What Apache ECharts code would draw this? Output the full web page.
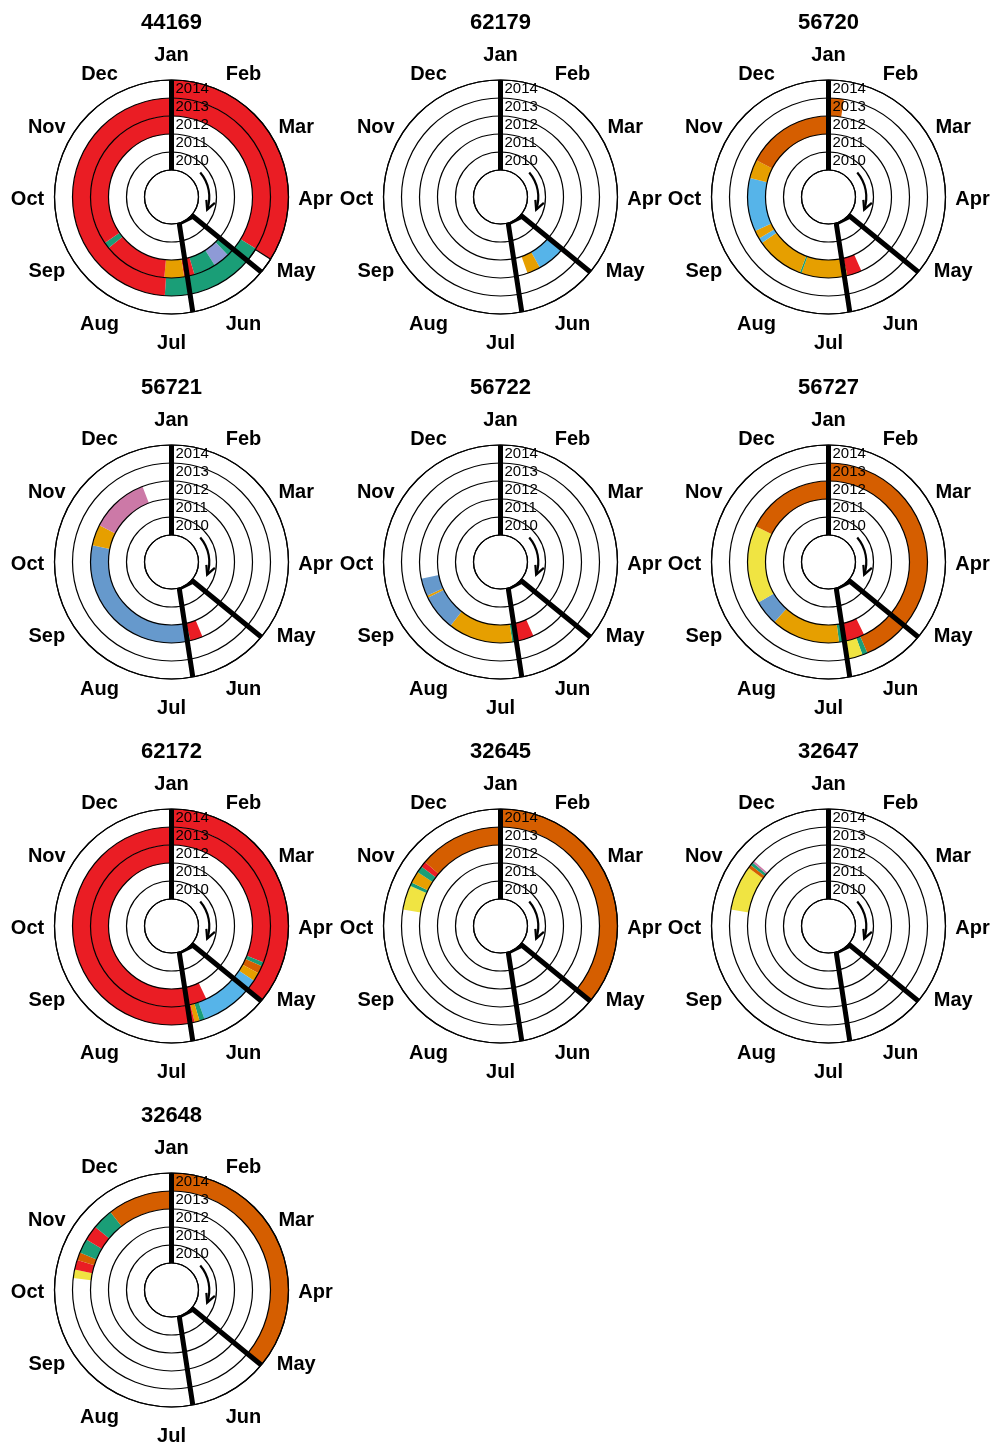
<!DOCTYPE html>
<html><head><meta charset="utf-8">
<script src="https://cdn.jsdelivr.net/npm/echarts@6/dist/echarts.min.js"></script>
<style>html,body{margin:0;padding:0;background:#fff}#c{width:994px;height:1444px}</style>
</head><body><div id="c"></div><script>
// ---------- data ----------
const months = ['Jan','Feb','Mar','Apr','May','Jun','Jul','Aug','Sep','Oct','Nov','Dec'];
const years = [2010, 2011, 2012, 2013, 2014];
const stations = ['44169','62179','56720','56721','56722','56727','62172','32645','32647','32648'];

// segments: [year, startMonth, endMonth, category]  (months measured from 1 Jan, clockwise)
const seg44169 = [
  [2012, 4.33, 4.53, 'green'], [2012, 4.53, 4.92, 'lavender'], [2012, 4.92, 5.45, 'green'],
  [2012, 5.45, 5.70, 'red'], [2012, 5.70, 6.17, 'orange'], [2012, 6.17, 7.70, 'red'],
  [2012, 7.70, 7.85, 'green'], [2012, 7.85, 12, 'red'],
  [2013, 0, 4.05, 'red'], [2013, 4.05, 4.30, 'green'], [2013, 4.30, 4.36, 'orange'],
  [2013, 4.36, 6.13, 'green'], [2013, 6.13, 12, 'red'],
  [2014, 0, 4.07, 'red'], [2014, 4.07, 4.31, 'white']
];
const seg62179 = [
  [2012, 4.35, 5.03, 'skyblue'], [2012, 5.03, 5.35, 'orange']
];
const seg56720 = [
  [2012, 5.20, 5.55, 'red'], [2012, 5.55, 6.65, 'orange'], [2012, 6.65, 6.69, 'green'],
  [2012, 6.69, 7.85, 'orange'], [2012, 7.85, 7.97, 'skyblue'], [2012, 7.97, 8.17, 'orange'],
  [2012, 8.17, 9.45, 'skyblue'], [2012, 9.45, 9.90, 'orange'], [2012, 9.90, 12, 'vermilion'],
  [2013, 0, 0.30, 'vermilion']
];
const seg56721 = [
  [2012, 5.25, 5.55, 'red'], [2012, 5.55, 5.65, 'green'], [2012, 5.65, 9.40, 'blue'],
  [2012, 9.40, 9.90, 'orange'], [2012, 9.90, 11.30, 'pink']
];
const seg56722 = [
  [2012, 5.20, 5.60, 'red'], [2012, 5.60, 5.72, 'green'], [2012, 5.72, 7.27, 'orange'],
  [2012, 7.27, 8.13, 'blue'], [2012, 8.13, 8.18, 'orange'], [2012, 8.18, 8.60, 'blue']
];
const seg56727 = [
  [2012, 5.13, 5.60, 'red'], [2012, 5.60, 5.75, 'green'], [2012, 5.75, 7.40, 'orange'],
  [2012, 7.40, 8.00, 'blue'], [2012, 8.00, 9.87, 'yellow'], [2012, 9.87, 12, 'vermilion'],
  [2013, 0, 5.23, 'vermilion'], [2013, 5.23, 5.33, 'green'], [2013, 5.33, 5.60, 'yellow']
];
const seg62172 = [
  [2012, 5.15, 12, 'red'],
  [2013, 0, 3.72, 'red'], [2013, 3.72, 3.80, 'green'], [2013, 3.80, 3.95, 'vermilion'],
  [2013, 3.95, 4.12, 'orange'], [2013, 4.12, 5.35, 'skyblue'], [2013, 5.35, 5.45, 'green'],
  [2013, 5.45, 5.55, 'orange'], [2013, 5.55, 12, 'red'],
  [2014, 0, 4.30, 'red']
];
const seg32645 = [
  [2013, 9.32, 9.80, 'yellow'], [2013, 9.80, 9.87, 'green'], [2013, 9.87, 10.10, 'orange'],
  [2013, 10.10, 10.23, 'green'], [2013, 10.23, 10.34, 'red'], [2013, 10.34, 12, 'vermilion'],
  [2014, 0, 4.30, 'vermilion']
];
const seg32647 = [
  [2013, 9.32, 10.20, 'yellow'], [2013, 10.20, 10.27, 'vermilion'],
  [2013, 10.27, 10.33, 'green'], [2013, 10.33, 10.37, 'pink']
];
const seg32648 = [
  [2013, 9.23, 9.40, 'yellow'], [2013, 9.40, 9.59, 'red'], [2013, 9.59, 9.74, 'vermilion'],
  [2013, 9.74, 10.02, 'green'], [2013, 10.02, 10.32, 'red'], [2013, 10.32, 10.73, 'green'],
  [2013, 10.73, 12, 'vermilion'],
  [2014, 0, 4.30, 'vermilion']
];
const segmentsByStation = [seg44169, seg62179, seg56720, seg56721, seg56722,
                           seg56727, seg62172, seg32645, seg32647, seg32648];

// reference lines, as [ring position (0 = inner circle, 5 = outer), month]
const janLine = [[0, 0], [5, 0]];
const seasonLine = [[5, 4.33], [0.1, 4.40], [0, 5.45], [5, 5.65]];
// direction arrow: [ring position, start month, end month]
const arrowArc = [[0.6, 1.65, 3.65]];

// ---------- styles ----------
const palette = {
  red: '#EA1D24', green: '#1A9E77', orange: '#E69F00', skyblue: '#56B4E9',
  blue: '#6699CC', lavender: '#8E9AD6', pink: '#CC79A7', yellow: '#F0E442',
  vermilion: '#D55E00', white: '#FFFFFF'
};
const FONT = 'Liberation Sans, Arial, sans-serif';
const colX = [171.5, 500.5, 828.5];
const rowY = [197, 562, 926, 1290];
const R0 = 27, R1 = 117, RLAB = 144;

function angleOf(cs, p) { return Math.atan2(p[1] - cs.cy, p[0] - cs.cx); }

function renderSegment(params, api) {
  const cs = params.coordSys;
  const ri = api.value(0), s = api.value(1), e = api.value(2);
  const pIn = api.coord([ri, s]), pOut = api.coord([ri + 1, s]);
  const r0 = Math.hypot(pIn[0] - cs.cx, pIn[1] - cs.cy);
  const r = Math.hypot(pOut[0] - cs.cx, pOut[1] - cs.cy);
  const a0 = angleOf(cs, pIn);
  let a1 = angleOf(cs, api.coord([ri, e]));
  while (a1 <= a0) a1 += 2 * Math.PI;
  const fill = api.visual('color');
  const isWhite = String(fill).toUpperCase() === '#FFFFFF';
  return {
    type: 'sector',
    shape: { cx: cs.cx, cy: cs.cy, r0: r0, r: r, startAngle: a0, endAngle: a1, clockwise: true },
    style: { fill: fill, stroke: isWhite ? '#000' : null, lineWidth: isWhite ? 1.2 : 0 }
  };
}

function renderArrow(params, api) {
  const cs = params.coordSys;
  const rv = api.value(0);
  const p0 = api.coord([rv, api.value(1)]), p1 = api.coord([rv, api.value(2)]);
  const r = Math.hypot(p0[0] - cs.cx, p0[1] - cs.cy);
  const t0 = angleOf(cs, p0);
  let t1 = angleOf(cs, p1);
  while (t1 <= t0) t1 += 2 * Math.PI;
  const dx = -Math.sin(t1), dy = Math.cos(t1);
  const nx = Math.cos(t1), ny = Math.sin(t1);
  const L = 9, W = 5;
  const b1 = [p1[0] - dx * L + nx * W, p1[1] - dy * L + ny * W];
  const b2 = [p1[0] - dx * L - nx * W * 0.8, p1[1] - dy * L - ny * W * 0.8];
  return {
    type: 'group',
    children: [
      { type: 'arc', shape: { cx: cs.cx, cy: cs.cy, r: r, startAngle: t0, endAngle: t1, clockwise: true },
        style: { stroke: '#000', lineWidth: 2.2, fill: null } },
      { type: 'polyline', shape: { points: [b1, p1, b2] },
        style: { stroke: '#000', lineWidth: 2.2, fill: null } }
    ]
  };
}

const option = {
  backgroundColor: '#ffffff',
  animation: false,
  title: [], polar: [], angleAxis: [], radiusAxis: [], series: []
};

stations.forEach(function (name, i) {
  const cx = colX[i % 3], cy = rowY[Math.floor(i / 3)];
  const pMain = option.polar.length, pLab = pMain + 1;

  option.title.push({
    text: name, left: cx, top: cy - 185, textAlign: 'center', padding: 0,
    textStyle: { fontFamily: FONT, fontWeight: 'bold', fontSize: 22, color: '#000' }
  });

  option.polar.push({ center: [cx, cy], radius: [R0, R1] });
  option.polar.push({ center: [cx, cy + 2.5], radius: [0, RLAB] });

  option.angleAxis.push({
    polarIndex: pMain, type: 'value', min: 0, max: 12, interval: 1,
    startAngle: 90, clockwise: true, z: 3,
    axisLine: { show: true, lineStyle: { color: '#000', width: 1.2 } },
    axisTick: { show: false }, axisLabel: { show: false }, splitLine: { show: false }
  });
  option.angleAxis.push({
    polarIndex: pLab, type: 'value', min: 0, max: 12, interval: 1,
    startAngle: 90, clockwise: true,
    axisLine: { show: false }, axisTick: { show: false }, axisLabel: { show: false }, splitLine: { show: false }
  });
  option.radiusAxis.push({
    polarIndex: pMain, type: 'value', min: 0, max: 5, interval: 1, z: 3,
    axisLine: { show: false }, axisTick: { show: false }, axisLabel: { show: false },
    splitLine: { show: true, lineStyle: { color: '#000', width: 1.2 } }
  });
  option.radiusAxis.push({
    polarIndex: pLab, type: 'value', min: 0, max: 1,
    axisLine: { show: false }, axisTick: { show: false }, axisLabel: { show: false }, splitLine: { show: false }
  });

  // coloured ring segments
  option.series.push({
    type: 'custom', coordinateSystem: 'polar', polarIndex: pMain, z: 2,
    renderItem: renderSegment,
    data: segmentsByStation[i].map(function (s) {
      return { value: [years.indexOf(s[0]), s[1], s[2]], itemStyle: { color: palette[s[3]] } };
    })
  });
  // Jan line
  option.series.push({
    type: 'line', coordinateSystem: 'polar', polarIndex: pMain, z: 6,
    symbol: 'none', silent: true,
    lineStyle: { color: '#000', width: 5 },
    data: janLine
  });
  // season wedge lines
  option.series.push({
    type: 'line', coordinateSystem: 'polar', polarIndex: pMain, z: 6,
    symbol: 'none', silent: true,
    lineStyle: { color: '#000', width: 5, join: 'miter' },
    data: seasonLine
  });
  // arrow
  option.series.push({
    type: 'custom', coordinateSystem: 'polar', polarIndex: pMain, z: 6,
    renderItem: renderArrow, data: arrowArc
  });
  // year labels
  option.series.push({
    type: 'scatter', coordinateSystem: 'polar', polarIndex: pMain, z: 7,
    symbolSize: 0, silent: true, itemStyle: { opacity: 1 },
    label: {
      show: true, position: 'right', distance: 4, opacity: 1,
      fontFamily: FONT, fontSize: 15, color: '#000', textBorderWidth: 0,
      formatter: function (p) { return String(years[p.dataIndex]); }
    },
    data: years.map(function (y, k) { return [k + 0.5, 0]; })
  });
  // month labels
  option.series.push({
    type: 'scatter', coordinateSystem: 'polar', polarIndex: pLab, z: 7,
    symbolSize: 0, silent: true, itemStyle: { opacity: 1 },
    label: {
      show: true, position: 'inside', opacity: 1,
      fontFamily: FONT, fontSize: 20, fontWeight: 'bold', color: '#000', textBorderWidth: 0,
      formatter: function (p) { return months[p.dataIndex]; }
    },
    data: months.map(function (m, k) { return [1, k]; })
  });
});

const chart = echarts.init(document.getElementById('c'), null, { renderer: 'canvas', width: 994, height: 1444 });
chart.setOption(option);
</script></body></html>
